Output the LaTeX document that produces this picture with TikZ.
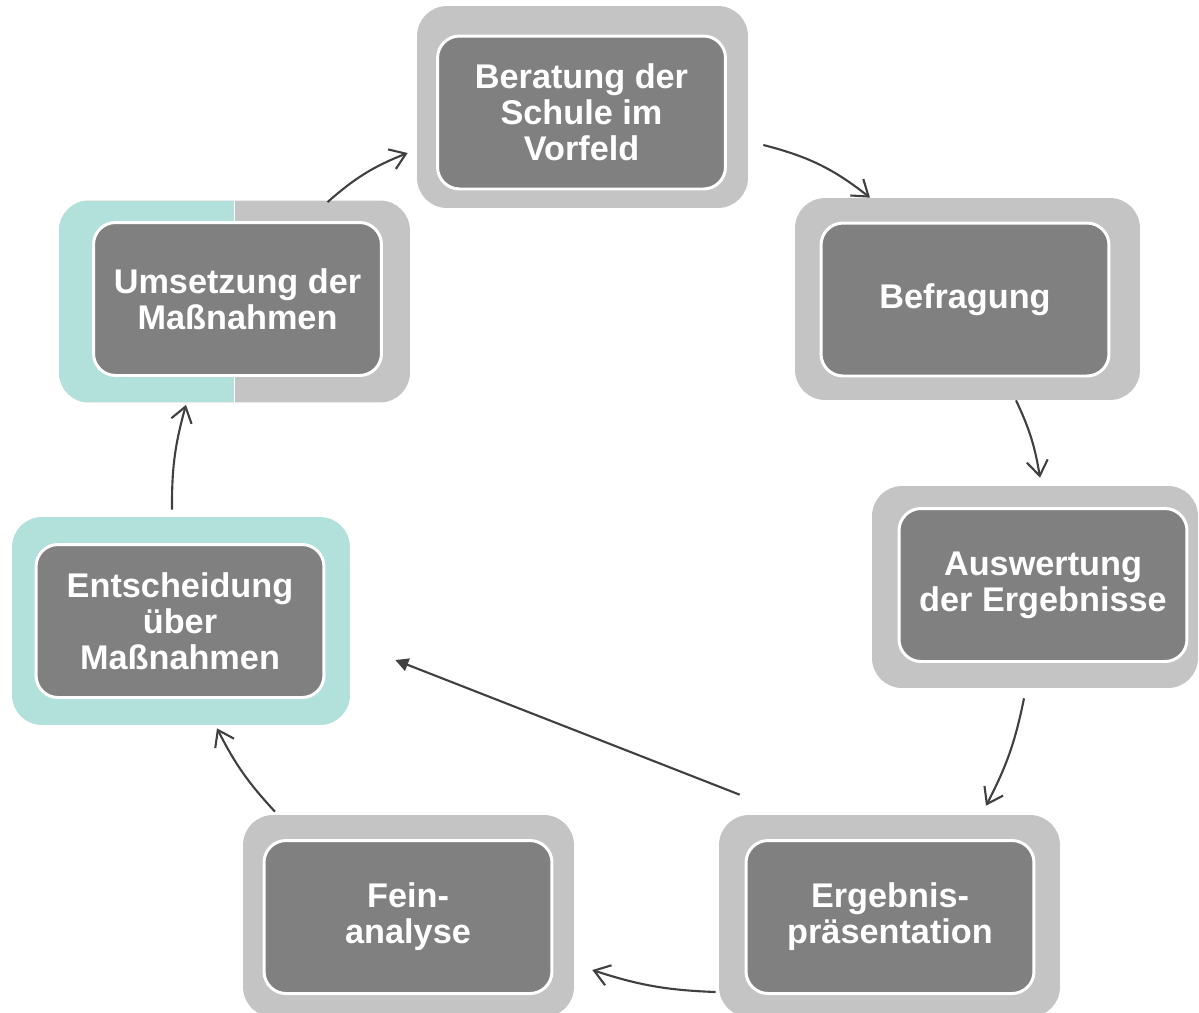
\documentclass[tikz,border=0pt]{standalone}
\usepackage{fontspec}
\setmainfont{Liberation Sans}
\usetikzlibrary{arrows.meta}
\definecolor{boxgray}{HTML}{C4C4C4}
\definecolor{boxdark}{HTML}{808080}
\definecolor{boxmint}{HTML}{B2E1DC}
\definecolor{linegray}{HTML}{404040}

\begin{document}
\begin{tikzpicture}[x=0.02cm,y=-0.02cm,
  outer/.style={fill=boxgray,rounded corners=0.6cm,minimum height=4.04cm,inner sep=0pt},
  inner/.style={fill=boxdark,draw=white,line width=1.7pt,rounded corners=0.44cm,minimum width=5.76cm,minimum height=3.06cm,
    text=white,font=\bfseries\fontsize{19.5}{20.5}\selectfont,align=center,inner sep=0pt},
  link/.style={draw=linegray,line width=1.2pt,-{Straight Barb[length=0.3cm,width=0.42cm]}}]
  \useasboundingbox (0,0) rectangle (1199,1012);
  % outer frames
  \node[outer,minimum width=6.62cm] (o1) at (582.5,107) {};
  \node[outer,minimum width=6.9cm] (o2) at (967.5,299) {};
  \node[outer,minimum width=6.52cm] (o3) at (1035,587) {};
  \node[outer,minimum width=6.82cm] (o4) at (889.5,916) {};
  \node[outer,minimum width=6.62cm] (o5) at (408.5,916) {};
  \node[outer,fill=boxmint,minimum width=6.76cm,minimum height=4.16cm] (o6) at (181,621) {};
  \node[outer,minimum width=7.02cm,path picture={\fill[boxmint,sharp corners] (path picture bounding box.south west) rectangle (path picture bounding box.north);}] (o7) at (234.5,301.5) {};
  \draw[white,line width=0.6pt] (o7.north) -- (o7.south);
  % steps
  \node[inner] (n1) at (581.5,112.5) {Beratung der\\Schule im\\Vorfeld};
  \node[inner] (n2) at (965,299.5) {Befragung};
  \node[inner] (n3) at (1043,585) {Auswertung\\der Ergebnisse};
  \node[inner] (n4) at (890,917) {Ergebnis-\\präsentation};
  \node[inner] (n5) at (408,917) {Fein-\\analyse};
  \node[inner] (n6) at (180,621) {Entscheidung\\über\\Maßnahmen};
  \node[inner] (n7) at (237.5,299) {Umsetzung der\\Maßnahmen};
  % cycle
  \draw[link] ([shift={(93,2)}]o7.north) to[bend left=10] ([shift={(-9,46)}]o1.west);
  \draw[link] ([shift={(15,38)}]o1.east) to[bend left=12] ([shift={(-97.5,0)}]o2.north);
  \draw[link] ([shift={(48.5,0)}]o2.south) to[bend left=8] ([shift={(5,-8)}]o3.north);
  \draw[link] ([shift={(-11,10)}]o3.south) to[bend left=8] ([shift={(96.5,-9)}]o4.north);
  \draw[link] ([shift={(-3,76)}]o4.west) to[bend left=8] ([shift={(18,54)}]o5.east);
  \draw[link] ([shift={(-133.5,-3)}]o5.north) to[bend left=8] ([shift={(36,3)}]o6.south);
  \draw[link] ([shift={(-9,-7)}]o6.north) to[bend left=8] ([shift={(-48.5,2)}]o7.south);
  \draw[link,-{Triangle[length=0.26cm,width=0.26cm]}] ([shift={(21,-20)}]o4.north west) -- ([shift={(45,39)}]o6.east);
\end{tikzpicture}
\end{document}
